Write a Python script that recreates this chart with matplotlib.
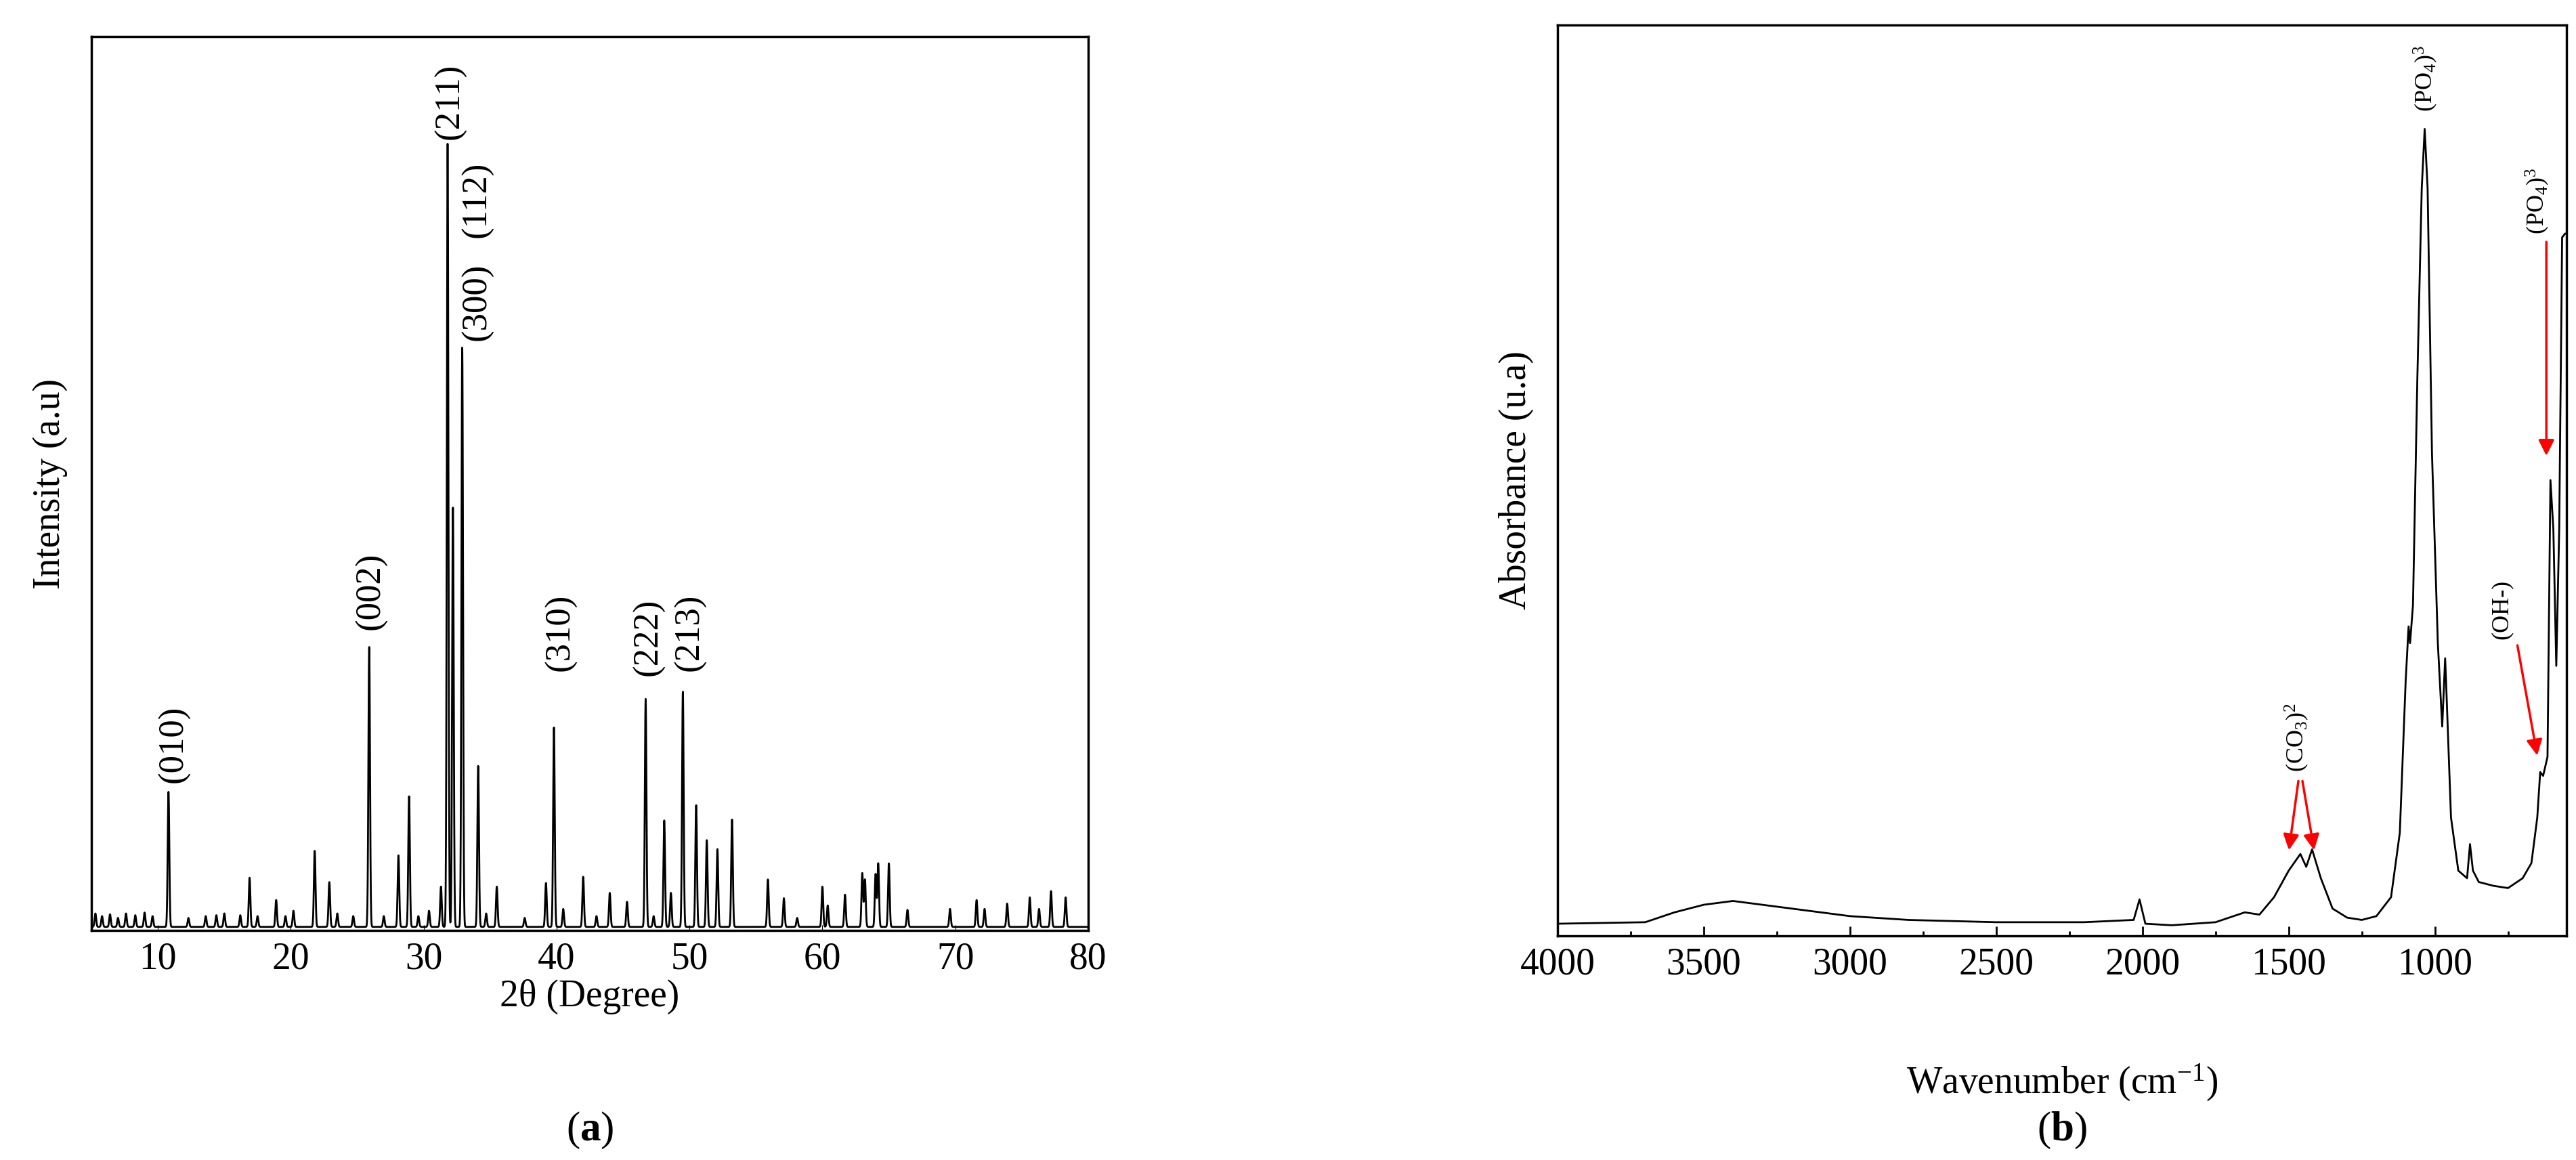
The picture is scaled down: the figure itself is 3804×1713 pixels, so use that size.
import numpy as np
import matplotlib
matplotlib.use("Agg")
import matplotlib.pyplot as plt

plt.rcParams['font.family'] = ['Liberation Serif', 'DejaVu Serif']
plt.rcParams['mathtext.fontset'] = 'custom'
plt.rcParams['mathtext.rm'] = 'Liberation Serif'
plt.rcParams['mathtext.it'] = 'Liberation Serif:italic'
plt.rcParams['mathtext.bf'] = 'Liberation Serif:bold'

# XRD peaks (2theta, relative intensity)
xrd_pos = [5.3, 5.8, 6.4, 7.0, 7.6, 8.3, 9.0, 9.6, 10.8, 12.3, 13.6, 14.4, 15.0, 16.2, 16.9, 17.5,
           18.9, 19.6, 20.2, 21.8, 22.9, 23.5, 24.7, 25.9, 27.0, 28.1, 28.9, 29.6, 30.4, 31.3,
           31.8, 32.2, 32.9, 34.1, 34.7, 35.5, 37.6, 39.2, 39.8, 40.5, 42.0, 43.0, 44.0, 45.3,
           46.7, 47.3, 48.1, 48.6, 49.5, 50.5, 51.3, 52.1, 53.2, 55.9, 57.1, 58.1, 60.0, 60.4,
           61.7, 63.0, 63.2, 64.0, 64.2, 65.0, 66.4, 69.6, 71.6, 72.2, 73.9, 75.6, 76.3, 77.2,
           78.3]
xrd_int = [0.015, 0.012, 0.014, 0.01, 0.015, 0.013, 0.016, 0.012, 0.151, 0.01, 0.012, 0.013, 0.015, 0.013, 0.055, 0.012,
           0.03, 0.012, 0.018, 0.085, 0.05, 0.015, 0.012, 0.313, 0.012, 0.08, 0.146, 0.012, 0.018, 0.045,
           0.876, 0.469, 0.648, 0.18, 0.015, 0.045, 0.01, 0.049, 0.223, 0.02, 0.056, 0.012, 0.038, 0.028,
           0.255, 0.012, 0.119, 0.038, 0.263, 0.136, 0.097, 0.087, 0.12, 0.053, 0.032, 0.01, 0.045, 0.024,
           0.036, 0.06, 0.053, 0.059, 0.071, 0.071, 0.019, 0.02, 0.03, 0.02, 0.026, 0.033, 0.02, 0.04,
           0.033]
xrd_labels = ['(010)', '(002)', '(211)', '(112)', '(300)', '(310)', '(222)', '(213)']
xrd_label_x = [11.2, 26.0, 32.0, 34.0, 34.0, 40.3, 46.9, 50.0]
xrd_label_y = [0.165, 0.336, 0.885, 0.775, 0.66, 0.29, 0.285, 0.29]

# FTIR curve (wavenumber, absorbance)
ir_x = [4000, 3700, 3600, 3500, 3400, 3300, 3200, 3000, 2800, 2500, 2200, 2030, 2010, 1990, 1900,
        1750, 1650, 1600, 1550, 1500, 1460, 1440, 1420, 1390, 1350, 1300, 1250, 1200, 1150, 1120,
        1100, 1090, 1085, 1075, 1060, 1045, 1035, 1025, 1010, 990, 975, 965, 960, 945, 920, 890,
        880, 870, 850, 800, 750, 700, 670, 650, 640, 630, 615, 605, 595, 585, 575, 565, 555, 550]
ir_yz = [1220, 1218, 1205, 1195, 1190, 1195, 1200, 1210, 1215, 1218, 1218, 1215, 1188, 1220, 1222,
         1218, 1205, 1208, 1185, 1150, 1128, 1145, 1122, 1160, 1200, 1212, 1215, 1210, 1185, 1100,
         900, 828, 850, 800, 500, 250, 172, 250, 600, 850, 960, 870, 920, 1080, 1150, 1160,
         1115, 1150, 1165, 1170, 1173, 1160, 1140, 1080, 1020, 1025, 1000, 635, 700, 880, 700, 315, 310, 310]
ir_y = [(1236 - v) / 1201 for v in ir_yz]

fig = plt.figure(figsize=(38.04, 17.13), dpi=100)
W, H = 3804, 1713
ax1 = fig.add_axes([135 / W, 1 - 1374 / H, (1607 - 135) / W, (1374 - 54) / H])
ax2 = fig.add_axes([2300 / W, 1 - 1382 / H, (3790 - 2300) / W, (1382 - 37) / H])

# XRD profile
tt = np.linspace(5, 80, 15001)
prof = np.full_like(tt, 0.004)
for p, h in zip(xrd_pos, xrd_int):
    prof += h * np.exp(-0.5 * ((tt - p) / 0.06) ** 2)
ax1.plot(tt, prof, color='black', lw=2)
ax1.set_xlim(5, 80)
ax1.set_ylim(0, 1)
ax1.set_yticks([])
ax1.set_xticks(range(10, 81, 10))
ax1.tick_params(axis='x', direction='in', length=6, labelsize=40, pad=12)
ax1.set_xlabel('2θ (Degree)', fontsize=40, labelpad=2)
ax1.set_ylabel('Intensity (a.u)', fontsize=40, labelpad=25)
for t, x, y in zip(xrd_labels, xrd_label_x, xrd_label_y):
    ax1.text(x, y, t, rotation=90, ha='center', va='bottom', fontsize=38)
for s in ax1.spines.values():
    s.set_linewidth(2.5)
fig.text((135 + 1607) / 2 / W, 1 - 1669 / H, r'($\mathbf{a}$)', ha='center', va='center', fontsize=44)

# FTIR
ax2.plot(ir_x, ir_y, color='black', lw=2)
ax2.set_xlim(4000, 550)
ax2.set_ylim(0, 1)
ax2.set_yticks([])
ax2.set_xticks(range(4000, 999, -500))
ax2.set_xticks(range(3750, 600, -250), minor=True)
ax2.tick_params(axis='x', which='major', direction='in', length=10, width=2, labelsize=40, pad=12)
ax2.tick_params(axis='x', which='minor', direction='in', length=5, width=2)
ax2.set_xlabel('Wavenumber (cm$^{-1}$)', fontsize=40, labelpad=85)
ax2.set_ylabel('Absorbance (u.a)', fontsize=40, labelpad=25)
for s in ax2.spines.values():
    s.set_linewidth(2.5)
ax2.text(1031, 0.905, r'(PO$_4$)$^3$', rotation=90, ha='center', va='bottom', fontsize=26)
ax2.text(649, 0.77, r'(PO$_4$)$^3$', rotation=90, ha='center', va='bottom', fontsize=26)
ax2.text(771, 0.326, '(OH-)', rotation=90, ha='center', va='bottom', fontsize=26)
ax2.text(1473, 0.18, r'(CO$_3$)$^2$', rotation=90, ha='center', va='bottom', fontsize=26)
arrows = [((1466, 0.172), (1500, 0.092)), ((1454, 0.172), (1412, 0.092)),
          ((719, 0.321), (649, 0.196)), ((619, 0.764), (619, 0.525))]
for (x0, y0), (x1, y1) in arrows:
    ax2.annotate('', xy=(x1, y1), xytext=(x0, y0),
                 arrowprops=dict(arrowstyle='-|>', color='red', lw=2.5, mutation_scale=35))
fig.text((2300 + 3790) / 2 / W, 1 - 1669 / H, r'($\mathbf{b}$)', ha='center', va='center', fontsize=44)

fig.savefig('out.png', dpi=100)
